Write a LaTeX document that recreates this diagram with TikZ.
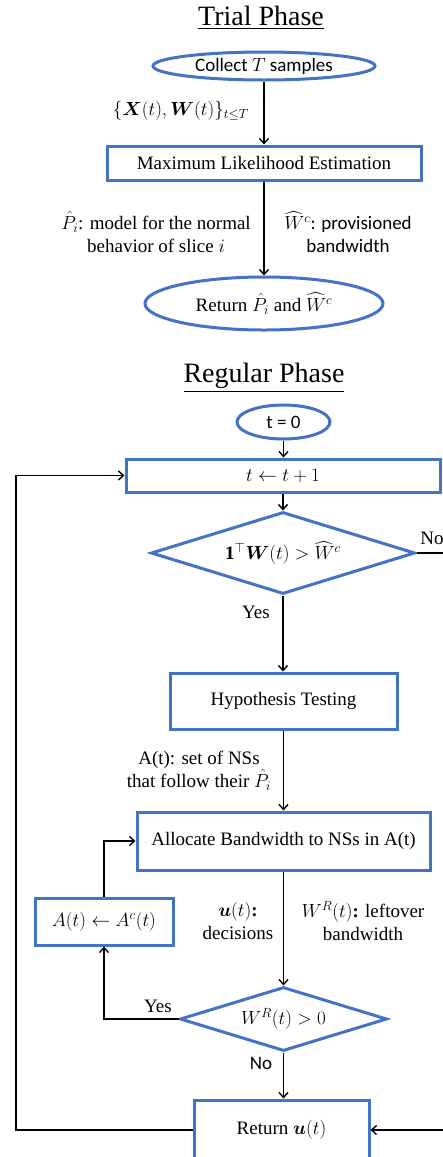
\RequirePackage{fix-cm}
\documentclass[tikz,border=0pt]{standalone}
\usepackage{fontspec}
\usepackage{amsmath}
\usepackage{bm}
\setmainfont{Liberation Serif}
\newfontfamily\calibri{Carlito}
\usetikzlibrary{shapes.geometric,arrows.meta}
\definecolor{flowblue}{HTML}{4472C4}
\begin{document}
\begin{tikzpicture}[x=1pt,y=-1pt,
  blueline/.style={draw=flowblue,line width=3pt},
  procbox/.style={blueline,rectangle,inner sep=0pt,align=center},
  oval/.style={blueline,ellipse,inner sep=0pt},
  decision/.style={blueline,diamond,inner sep=0pt,aspect=3.2},
  flow/.style={draw=black,line width=1.4pt,-{Straight Barb[length=5pt,width=9pt]}},
  lbl/.style={inner sep=0pt,align=center},
  sans/.style={font=\calibri\fontsize{19}{23}\selectfont},
  title/.style={inner sep=0pt,font=\fontsize{28}{32}\selectfont},
  font=\fontsize{19}{23}\selectfont]
  \clip (0,0) rectangle (443,1157);
  \fill[white] (0,0) rectangle (443,1157);

  % Trial phase
  \node[title] (trialtitle) at (261,18) {\underline{Trial Phase}};
  \node[oval,sans,minimum width=222,minimum height=28] (collect) at (264,66) {Collect $T$ samples};
  \node[procbox,minimum width=314,minimum height=34] (mle) at (264,163) {Maximum Likelihood Estimation};
  \node[oval,minimum width=238,minimum height=53] (ret1) at (264,303.5) {Return $\hat{P}_i$ and $\widehat{W}^c$};
  \draw[flow] (collect) -- (mle);
  \draw[flow] (mle) -- (ret1);
  \node[lbl,anchor=east] (samples) at (249,111) {$\{\bm{X}(t),\bm{W}(t)\}_{t\le T}$};
  \node[lbl] (pmodel) at (156,232) {$\hat{P}_i$: model for the normal\\behavior of slice $i$};
  \node[lbl] (wprov) at (348,232) {$\widehat{W}^c$\calibri: provisioned\\\calibri bandwidth};

  % Regular phase
  \node[title] (regtitle) at (264,378) {\underline{Regular Phase}};
  \node[oval,sans,minimum width=93,minimum height=34] (tzero) at (283.5,422) {t = 0};
  \node[procbox,minimum width=314,minimum height=33] (incr) at (283,475.5) {$t \leftarrow t+1$};
  \node[decision,minimum width=264,minimum height=82] (check) at (283,553) {$\mathbf{1}^{\top}\bm{W}(t) > \widehat{W}^c$};
  \node[procbox,minimum width=227,minimum height=56] (hyp) at (283.5,701) {Hypothesis Testing};
  \node[procbox,minimum width=293,minimum height=58] (alloc) at (283.5,841) {Allocate Bandwidth to NSs in A(t)};
  \node[procbox,minimum width=138,minimum height=47] (reset) at (104,921.5) {$A(t) \leftarrow A^c(t)$};
  \node[decision,minimum width=207,minimum height=64] (remain) at (283.5,1019) {$W^R(t) > 0$};
  \node[procbox,minimum width=175,minimum height=60] (ret2) at (281.5,1130) {Return $\bm{u}(t)$};

  \coordinate (loopx) at (16,800);
  \coordinate (nox) at (462,800);

  \draw[flow] (tzero) -- (tzero |- incr.north);
  \draw[flow] (incr) -- (check);
  \draw[flow] (check.south) -- (check.south |- hyp.north);
  \draw[flow] (hyp) -- (hyp |- alloc.north);
  \draw[flow] (alloc) -- (alloc |- remain.north);
  \draw[flow] (remain.south) -- (remain.south |- ret2.north);
  \draw[flow] (remain.west) -| (reset.south);
  \draw[flow] (reset.north) |- (alloc.west);
  \draw[flow] (ret2.west) -| (loopx) |- (incr.west);
  \draw[flow] (check.east) -| (nox) |- (ret2.east);

  \node[lbl] (yes1) at (256,612) {Yes};
  \node[lbl] (no1) at (432,538) {No};
  \node[lbl] (aset) at (199,771) {A(t): set of NSs\\that follow their $\hat{P}_i$};
  \node[lbl] (udec) at (238,921) {$\bm{u}(t)$\textbf{:}\\decisions};
  \node[lbl] (wleft) at (363,921) {$W^R(t)$\textbf{:} leftover\\bandwidth};
  \node[lbl] (yes2) at (158,1006) {Yes};
  \node[lbl,sans] (no2) at (261,1063) {No};
\end{tikzpicture}
\end{document}
